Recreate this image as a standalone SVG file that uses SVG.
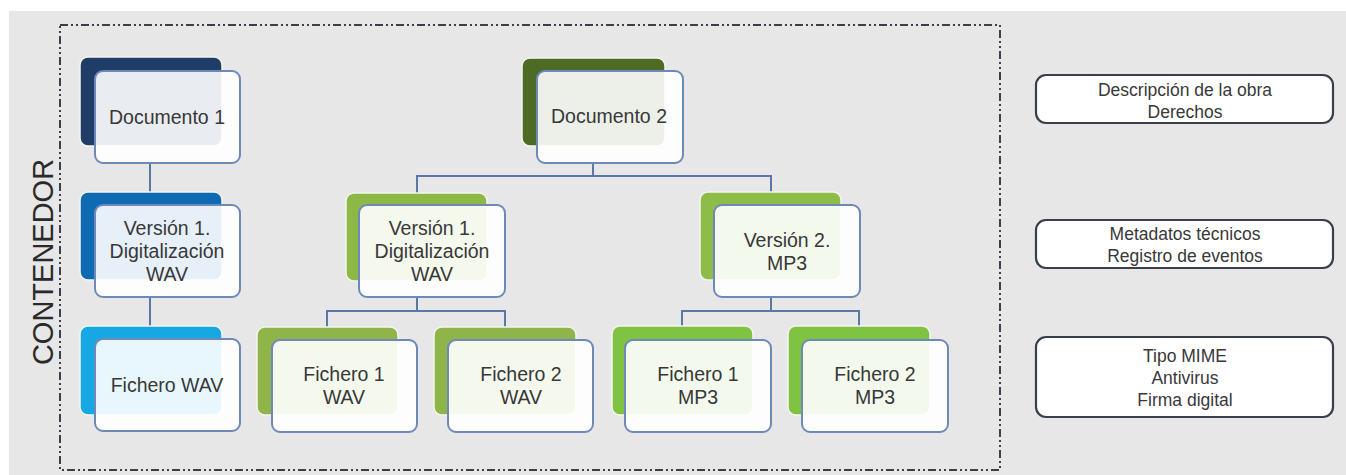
<svg xmlns="http://www.w3.org/2000/svg" width="1346" height="475" viewBox="0 0 1346 475">
<style>
.bk{stroke:#f4f6ee;stroke-width:1.5}
.fr{fill:#ffffff;fill-opacity:0.9;stroke:#6d88b9;stroke-width:2}
.t{font-family:"Liberation Sans",Arial,sans-serif;font-size:19.5px;fill:#383838;text-anchor:middle}
.rt{font-family:"Liberation Sans",Arial,sans-serif;font-size:17.5px;fill:#383838;text-anchor:middle}
.rb{fill:#ffffff;stroke:#38404c;stroke-width:2.2}
.cn{fill:none;stroke:#5a77a8;stroke-width:2}
</style>
<rect x="0" y="0" width="1346" height="475" fill="#ffffff"/>
<rect x="9" y="11" width="1337" height="464" fill="#e7e7e7"/>
<rect x="60" y="25" width="940" height="445" fill="none" stroke="#3a4049" stroke-width="2" stroke-dasharray="8 3 2 3 2 3"/>
<text transform="translate(53,262) rotate(-90)" font-family="'Liberation Sans',Arial,sans-serif" font-size="29" fill="#2a2a2a" text-anchor="middle">CONTENEDOR</text>

<g id="connectors">
<path class="cn" d="M150 163V192"/>
<path class="cn" d="M150 297V326"/>
<path class="cn" d="M593 163V176H417V193M593 176H771V193"/>
<path class="cn" d="M417 297V311H327V327M417 311H505V327"/>
<path class="cn" d="M771 297V311H682V326M771 311H859V326"/>
</g>

<g id="doc1">
<rect class="bk" x="80" y="57" width="142" height="89" rx="8" fill="#1f3d66"/>
<rect class="fr" x="95" y="71" width="145" height="92" rx="8"/>
<text class="t" x="167" y="124">Documento 1</text>
</g>
<g id="ver1a">
<rect class="bk" x="80" y="192" width="142" height="88" rx="8" fill="#0f6ab4"/>
<rect class="fr" x="95" y="205" width="145" height="92" rx="8"/>
<text class="t" x="167" y="235">Versión 1.</text>
<text class="t" x="167" y="258">Digitalización</text>
<text class="t" x="167" y="281">WAV</text>
</g>
<g id="ficherowav">
<rect class="bk" x="80" y="326" width="142" height="89" rx="8" fill="#17a8e4"/>
<rect class="fr" x="95" y="339" width="145" height="92" rx="8"/>
<text class="t" x="167" y="392">Fichero WAV</text>
</g>

<g id="doc2">
<rect class="bk" x="522" y="58" width="143" height="88" rx="8" fill="#4e6b25"/>
<rect class="fr" x="537" y="71" width="146" height="92" rx="8"/>
<text class="t" x="609" y="123">Documento 2</text>
</g>
<g id="ver1b">
<rect class="bk" x="346" y="193" width="141" height="88" rx="8" fill="#8db845"/>
<rect class="fr" x="359" y="205" width="146" height="92" rx="8"/>
<text class="t" x="432" y="235">Versión 1.</text>
<text class="t" x="432" y="258">Digitalización</text>
<text class="t" x="432" y="281">WAV</text>
</g>
<g id="ver2">
<rect class="bk" x="700" y="192" width="141" height="88" rx="8" fill="#8ebc48"/>
<rect class="fr" x="714" y="205" width="146" height="92" rx="8"/>
<text class="t" x="787" y="247">Versión 2.</text>
<text class="t" x="787" y="270">MP3</text>
</g>

<g id="f1wav">
<rect class="bk" x="257" y="327" width="141" height="88" rx="8" fill="#8fb44a"/>
<rect class="fr" x="272" y="340" width="145" height="92" rx="8"/>
<text class="t" x="344" y="381">Fichero 1</text>
<text class="t" x="344" y="404">WAV</text>
</g>
<g id="f2wav">
<rect class="bk" x="434" y="327" width="142" height="88" rx="8" fill="#8fb44a"/>
<rect class="fr" x="448" y="340" width="145" height="92" rx="8"/>
<text class="t" x="521" y="381">Fichero 2</text>
<text class="t" x="521" y="404">WAV</text>
</g>
<g id="f1mp3">
<rect class="bk" x="612" y="326" width="141" height="89" rx="8" fill="#80c242"/>
<rect class="fr" x="625" y="340" width="146" height="92" rx="8"/>
<text class="t" x="698" y="381">Fichero 1</text>
<text class="t" x="698" y="404">MP3</text>
</g>
<g id="f2mp3">
<rect class="bk" x="788" y="326" width="142" height="89" rx="8" fill="#80c242"/>
<rect class="fr" x="802" y="340" width="146" height="92" rx="8"/>
<text class="t" x="875" y="381">Fichero 2</text>
<text class="t" x="875" y="404">MP3</text>
</g>

<g id="meta1">
<rect class="rb" x="1036" y="75" width="297" height="48" rx="10"/>
<text class="rt" x="1185" y="96">Descripción de la obra</text>
<text class="rt" x="1185" y="118">Derechos</text>
</g>
<g id="meta2">
<rect class="rb" x="1036" y="220" width="297" height="48" rx="10"/>
<text class="rt" x="1185" y="240">Metadatos técnicos</text>
<text class="rt" x="1185" y="262">Registro de eventos</text>
</g>
<g id="meta3">
<rect class="rb" x="1036" y="337" width="297" height="80" rx="10"/>
<text class="rt" x="1185" y="362">Tipo MIME</text>
<text class="rt" x="1185" y="384">Antivirus</text>
<text class="rt" x="1185" y="406">Firma digital</text>
</g>
</svg>
